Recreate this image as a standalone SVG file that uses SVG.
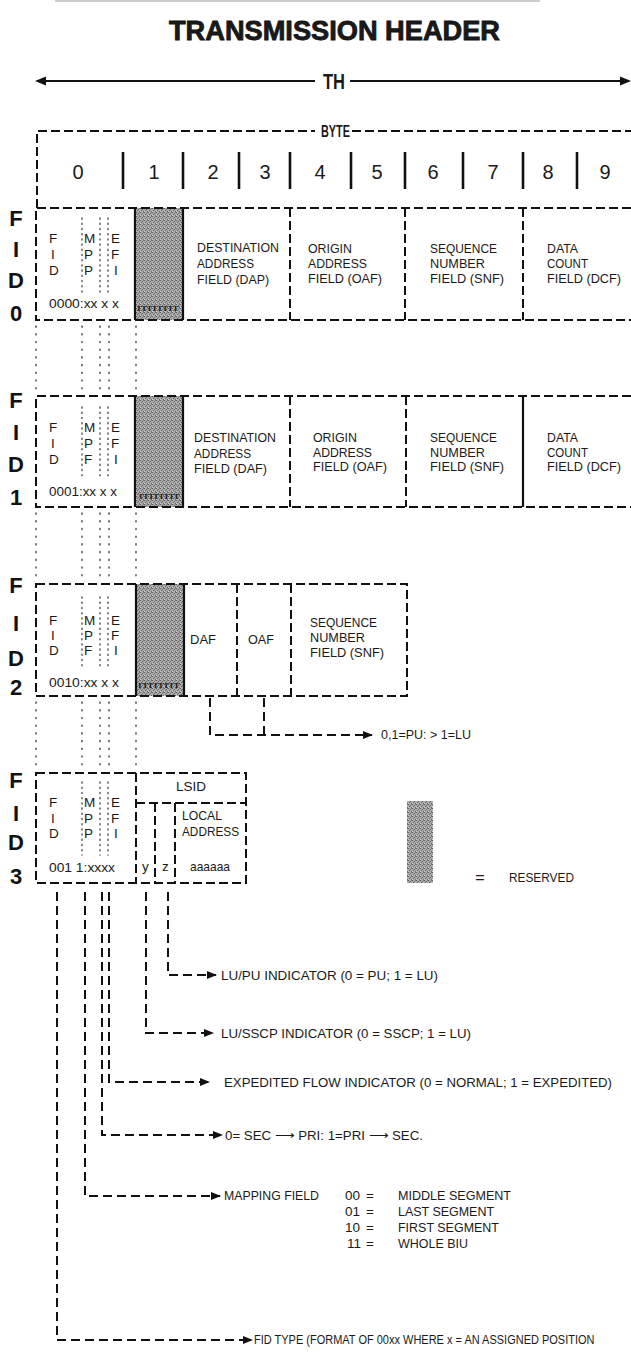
<svg xmlns="http://www.w3.org/2000/svg" width="631" height="1353" viewBox="0 0 631 1353">
<defs>
<pattern id="halftone" width="4" height="4" patternUnits="userSpaceOnUse">
<rect width="4" height="4" fill="#acacac"/>
<rect x="0" y="0" width="1" height="1" fill="#5a5a5a"/>
<rect x="2" y="1" width="1" height="1" fill="#666"/>
<rect x="1" y="2" width="1" height="1" fill="#606060"/>
<rect x="3" y="3" width="1" height="1" fill="#6a6a6a"/>
<rect x="3" y="0" width="1" height="1" fill="#7a7a7a"/>
<rect x="0" y="3" width="1" height="1" fill="#d0d0d0"/>
</pattern>
<marker id="ah" markerWidth="10" markerHeight="8" refX="9" refY="4" orient="auto" markerUnits="userSpaceOnUse">
<path d="M0,0 L10,4 L0,8 Z" fill="#111"/>
</marker>
</defs>
<style>
.t{font-family:"Liberation Sans","Noto Sans",sans-serif;fill:#1a1a1a}
.lb{font-size:13.5px}
.sm{font-size:13.5px}
.bt{font-size:13.5px}
.dg{font-size:20px;text-anchor:middle}
.fid{font-family:"Liberation Sans",sans-serif;font-weight:bold;font-size:22px;text-anchor:middle;fill:#111}
.dash{stroke:#111;stroke-width:2;stroke-dasharray:9 4;fill:none}
.solid{stroke:#111;stroke-width:2.2;fill:none}
.bar{stroke:#111;stroke-width:2.6}
.dot{stroke:#444;stroke-width:1.4;stroke-dasharray:1.2 6.5;stroke-linecap:round;fill:none}
.idot{stroke:#444;stroke-width:1.3;stroke-dasharray:1.2 4;stroke-linecap:round;fill:none}
.gray{fill:url(#halftone)}
.rr{font-family:"Liberation Serif",serif;font-size:11px;fill:#111}
.conn{stroke:#111;stroke-width:2;stroke-dasharray:9 5;fill:none}
</style>

<line x1="55" y1="1" x2="540" y2="1" stroke="#bdbdbd" stroke-width="1.5"/>

<g id="title">
<text class="t" x="334.5" y="40" text-anchor="middle" font-size="27" font-weight="bold" stroke="#111" stroke-width="0.8" textLength="331" lengthAdjust="spacingAndGlyphs">TRANSMISSION HEADER</text>
</g>

<g id="th-span">
<line x1="37" y1="81" x2="315" y2="81" stroke="#111" stroke-width="2"/>
<polygon points="35,81 46,76.5 46,85.5" fill="#111"/>
<line x1="350" y1="81" x2="622" y2="81" stroke="#111" stroke-width="2"/>
<polygon points="631,81 620,76.5 620,85.5" fill="#111"/>
<text class="t" x="323" y="89" font-size="22" font-weight="bold" textLength="22" lengthAdjust="spacingAndGlyphs">TH</text>
</g>

<g id="byte-header">
<path class="dash" d="M37,208 V131 H315"/>
<line class="dash" x1="352" y1="131" x2="631" y2="131"/>
<text class="t" x="321" y="137" font-size="16" font-weight="bold" textLength="29" lengthAdjust="spacingAndGlyphs">BYTE</text>
<line class="bar" x1="123" y1="152" x2="123" y2="189"/>
<line class="bar" x1="183" y1="152" x2="183" y2="189"/>
<line class="bar" x1="239" y1="152" x2="239" y2="189"/>
<line class="bar" x1="290" y1="152" x2="290" y2="189"/>
<line class="bar" x1="351" y1="152" x2="351" y2="189" stroke-width="3.2"/>
<line class="bar" x1="405" y1="152" x2="405" y2="189"/>
<line class="bar" x1="463" y1="152" x2="463" y2="189"/>
<line class="bar" x1="523" y1="152" x2="523" y2="189" stroke-width="3.2"/>
<line class="bar" x1="577" y1="152" x2="577" y2="189"/>
<text class="t dg" x="78" y="179">0</text>
<text class="t dg" x="154" y="179">1</text>
<text class="t dg" x="213" y="179">2</text>
<text class="t dg" x="265" y="179">3</text>
<text class="t dg" x="320" y="179">4</text>
<text class="t dg" x="377" y="179">5</text>
<text class="t dg" x="433" y="179">6</text>
<text class="t dg" x="493" y="179">7</text>
<text class="t dg" x="548" y="179">8</text>
<text class="t dg" x="605" y="179">9</text>
</g>

<g id="fid0">
<text class="fid" x="16" y="226">F</text>
<text class="fid" x="16" y="257">I</text>
<text class="fid" x="16" y="288">D</text>
<text class="fid" x="16" y="321">0</text>
<rect class="gray" x="135" y="208" width="48" height="112"/>
<path class="dash" d="M631,208 H36 V320 H631"/>
<line class="solid" x1="135" y1="208" x2="135" y2="320"/>
<line class="solid" x1="183" y1="208" x2="183" y2="320"/>
<line class="dash" x1="290" y1="208" x2="290" y2="320"/>
<line class="dash" x1="405" y1="208" x2="405" y2="320"/>
<line class="dash" x1="523" y1="208" x2="523" y2="320" stroke-width="2.4"/>
<line class="idot" x1="82" y1="218" x2="82" y2="292"/>
<line class="idot" x1="100" y1="218" x2="100" y2="292"/>
<line class="idot" x1="108" y1="218" x2="108" y2="292"/>
<text class="t sm" x="49" y="243">F</text><text class="t sm" x="51" y="259">I</text><text class="t sm" x="49" y="275">D</text>
<text class="t sm" x="84" y="243">M</text><text class="t sm" x="84" y="259">P</text><text class="t sm" x="84" y="275">P</text>
<text class="t sm" x="111" y="243">E</text><text class="t sm" x="111" y="259">F</text><text class="t sm" x="114" y="275">I</text>
<text class="t sm" x="49" y="308" textLength="70" lengthAdjust="spacingAndGlyphs">0000:xx x x</text>
<text class="rr" x="137" y="311" textLength="42" lengthAdjust="spacingAndGlyphs">rrrrrrrr</text>
<text class="t lb" x="197" y="252" textLength="82" lengthAdjust="spacingAndGlyphs">DESTINATION</text>
<text class="t lb" x="197" y="268" textLength="57" lengthAdjust="spacingAndGlyphs">ADDRESS</text>
<text class="t lb" x="197" y="284" textLength="72" lengthAdjust="spacingAndGlyphs">FIELD (DAP)</text>
<text class="t lb" x="308" y="253" textLength="44" lengthAdjust="spacingAndGlyphs">ORIGIN</text>
<text class="t lb" x="308" y="268" textLength="59" lengthAdjust="spacingAndGlyphs">ADDRESS</text>
<text class="t lb" x="308" y="283" textLength="74" lengthAdjust="spacingAndGlyphs">FIELD (OAF)</text>
<text class="t lb" x="430" y="253" textLength="67" lengthAdjust="spacingAndGlyphs">SEQUENCE</text>
<text class="t lb" x="430" y="268" textLength="55" lengthAdjust="spacingAndGlyphs">NUMBER</text>
<text class="t lb" x="430" y="283" textLength="74" lengthAdjust="spacingAndGlyphs">FIELD (SNF)</text>
<text class="t lb" x="547" y="253" textLength="31" lengthAdjust="spacingAndGlyphs">DATA</text>
<text class="t lb" x="547" y="268" textLength="41" lengthAdjust="spacingAndGlyphs">COUNT</text>
<text class="t lb" x="547" y="283" textLength="74" lengthAdjust="spacingAndGlyphs">FIELD (DCF)</text>
</g>

<g id="fid1">
<text class="fid" x="16" y="408">F</text>
<text class="fid" x="16" y="440">I</text>
<text class="fid" x="16" y="472">D</text>
<text class="fid" x="16" y="505">1</text>
<rect class="gray" x="135" y="396" width="48" height="111"/>
<path class="dash" d="M631,396 H36 V507 H631"/>
<line class="solid" x1="135" y1="396" x2="135" y2="507"/>
<line class="solid" x1="183" y1="396" x2="183" y2="507"/>
<line class="dash" x1="290" y1="396" x2="290" y2="507"/>
<line class="dash" x1="406" y1="396" x2="406" y2="507"/>
<line class="solid" x1="523" y1="396" x2="523" y2="507" stroke-width="2.4"/>
<line class="idot" x1="82" y1="407" x2="82" y2="478"/>
<line class="idot" x1="100" y1="407" x2="100" y2="478"/>
<line class="idot" x1="108" y1="407" x2="108" y2="478"/>
<text class="t sm" x="49" y="432">F</text><text class="t sm" x="51" y="448">I</text><text class="t sm" x="49" y="464">D</text>
<text class="t sm" x="84" y="432">M</text><text class="t sm" x="84" y="448">P</text><text class="t sm" x="84" y="464">F</text>
<text class="t sm" x="111" y="432">E</text><text class="t sm" x="111" y="448">F</text><text class="t sm" x="114" y="464">I</text>
<text class="t sm" x="49" y="496" textLength="68" lengthAdjust="spacingAndGlyphs">0001:xx x x</text>
<text class="rr" x="139" y="499" textLength="41" lengthAdjust="spacingAndGlyphs">rrrrrrrr</text>
<text class="t lb" x="194" y="442" textLength="82" lengthAdjust="spacingAndGlyphs">DESTINATION</text>
<text class="t lb" x="194" y="458" textLength="57" lengthAdjust="spacingAndGlyphs">ADDRESS</text>
<text class="t lb" x="194" y="473" textLength="73" lengthAdjust="spacingAndGlyphs">FIELD (DAF)</text>
<text class="t lb" x="313" y="442" textLength="44" lengthAdjust="spacingAndGlyphs">ORIGIN</text>
<text class="t lb" x="313" y="457" textLength="59" lengthAdjust="spacingAndGlyphs">ADDRESS</text>
<text class="t lb" x="313" y="471" textLength="74" lengthAdjust="spacingAndGlyphs">FIELD (OAF)</text>
<text class="t lb" x="430" y="442" textLength="67" lengthAdjust="spacingAndGlyphs">SEQUENCE</text>
<text class="t lb" x="430" y="457" textLength="55" lengthAdjust="spacingAndGlyphs">NUMBER</text>
<text class="t lb" x="430" y="471" textLength="74" lengthAdjust="spacingAndGlyphs">FIELD (SNF)</text>
<text class="t lb" x="547" y="442" textLength="31" lengthAdjust="spacingAndGlyphs">DATA</text>
<text class="t lb" x="547" y="457" textLength="41" lengthAdjust="spacingAndGlyphs">COUNT</text>
<text class="t lb" x="547" y="471" textLength="74" lengthAdjust="spacingAndGlyphs">FIELD (DCF)</text>
</g>

<g id="fid2">
<text class="fid" x="16" y="593">F</text>
<text class="fid" x="16" y="631">I</text>
<text class="fid" x="16" y="666">D</text>
<text class="fid" x="16" y="695">2</text>
<rect class="gray" x="136" y="584" width="48" height="112"/>
<rect class="dash" x="36" y="584" width="371" height="112"/>
<line class="solid" x1="136" y1="584" x2="136" y2="696" stroke-width="2.6"/>
<line class="solid" x1="184" y1="584" x2="184" y2="696"/>
<line class="dash" x1="237" y1="584" x2="237" y2="696"/>
<line class="dash" x1="291" y1="584" x2="291" y2="696"/>
<line class="idot" x1="82" y1="597" x2="82" y2="668"/>
<line class="idot" x1="100" y1="597" x2="100" y2="668"/>
<line class="idot" x1="108" y1="597" x2="108" y2="668"/>
<text class="t sm" x="49" y="625">F</text><text class="t sm" x="51" y="640">I</text><text class="t sm" x="49" y="655">D</text>
<text class="t sm" x="84" y="625">M</text><text class="t sm" x="84" y="640">P</text><text class="t sm" x="84" y="655">F</text>
<text class="t sm" x="111" y="625">E</text><text class="t sm" x="111" y="640">F</text><text class="t sm" x="114" y="655">I</text>
<text class="t sm" x="49" y="687" textLength="70" lengthAdjust="spacingAndGlyphs">0010:xx x x</text>
<text class="rr" x="138" y="688" textLength="42" lengthAdjust="spacingAndGlyphs">rrrrrrrr</text>
<text class="t lb" x="190" y="644" textLength="26" lengthAdjust="spacingAndGlyphs">DAF</text>
<text class="t lb" x="248" y="644" textLength="26" lengthAdjust="spacingAndGlyphs">OAF</text>
<text class="t lb" x="310" y="627" textLength="67" lengthAdjust="spacingAndGlyphs">SEQUENCE</text>
<text class="t lb" x="310" y="642" textLength="55" lengthAdjust="spacingAndGlyphs">NUMBER</text>
<text class="t lb" x="310" y="657" textLength="74" lengthAdjust="spacingAndGlyphs">FIELD (SNF)</text>
</g>

<g id="fid3">
<text class="fid" x="16" y="788">F</text>
<text class="fid" x="16" y="821">I</text>
<text class="fid" x="16" y="850">D</text>
<text class="fid" x="16" y="884">3</text>
<rect class="dash" x="36" y="773" width="210" height="110"/>
<line class="dash" x1="136" y1="773" x2="136" y2="883"/>
<line class="dash" x1="136" y1="803" x2="246" y2="803"/>
<line class="dash" x1="155" y1="803" x2="155" y2="883"/>
<line class="dash" x1="175" y1="803" x2="175" y2="883"/>
<line class="idot" x1="82" y1="782" x2="82" y2="855"/>
<line class="idot" x1="100" y1="782" x2="100" y2="855"/>
<line class="idot" x1="108" y1="782" x2="108" y2="855"/>
<text class="t sm" x="49" y="807">F</text><text class="t sm" x="51" y="823">I</text><text class="t sm" x="49" y="838">D</text>
<text class="t sm" x="84" y="807">M</text><text class="t sm" x="84" y="823">P</text><text class="t sm" x="84" y="838">P</text>
<text class="t sm" x="111" y="807">E</text><text class="t sm" x="111" y="823">F</text><text class="t sm" x="114" y="838">I</text>
<text class="t sm" x="49" y="872" textLength="66" lengthAdjust="spacingAndGlyphs">001 1:xxxx</text>
<text class="t lb" x="191" y="791" text-anchor="middle">LSID</text>
<text class="t lb" x="182" y="820" textLength="40" lengthAdjust="spacingAndGlyphs">LOCAL</text>
<text class="t lb" x="182" y="836" textLength="57" lengthAdjust="spacingAndGlyphs">ADDRESS</text>
<text class="t lb" x="142" y="871">y</text>
<text class="t lb" x="162" y="871">z</text>
<text class="t lb" x="190" y="871" textLength="40" lengthAdjust="spacingAndGlyphs">aaaaaa</text>
</g>

<g id="legend">
<rect class="gray" x="407" y="801" width="26" height="82"/>
<text class="t" x="480" y="883" font-size="16" text-anchor="middle">=</text>
<text class="t lb" x="509" y="882" textLength="65" lengthAdjust="spacingAndGlyphs">RESERVED</text>
</g>

<g id="connectors">
<g id="dotted-guides">
<line class="dot" x1="36" y1="326" x2="36" y2="392"/>
<line class="dot" x1="82" y1="326" x2="82" y2="392"/>
<line class="dot" x1="100" y1="326" x2="100" y2="392"/>
<line class="dot" x1="109" y1="326" x2="109" y2="392"/>
<line class="dot" x1="136" y1="326" x2="136" y2="392"/>
<line class="dot" x1="36" y1="513" x2="36" y2="580"/>
<line class="dot" x1="82" y1="513" x2="82" y2="580"/>
<line class="dot" x1="100" y1="513" x2="100" y2="580"/>
<line class="dot" x1="109" y1="513" x2="109" y2="580"/>
<line class="dot" x1="136" y1="513" x2="136" y2="580"/>
<line class="dot" x1="36" y1="702" x2="36" y2="769"/>
<line class="dot" x1="82" y1="702" x2="82" y2="769"/>
<line class="dot" x1="100" y1="702" x2="100" y2="769"/>
<line class="dot" x1="109" y1="702" x2="109" y2="769"/>
<line class="dot" x1="136" y1="702" x2="136" y2="769"/>
</g>
<g id="lsid-bracket">
<path class="conn" d="M210,698 V735 H372" marker-end="url(#ah)"/>
<line class="conn" x1="264" y1="698" x2="264" y2="735"/>
<text class="t" x="381" y="739" font-size="12.5">0,1=PU: &gt; 1=LU</text>
</g>
<g id="field-arrows">
<path class="conn" d="M168,892 V975 H216" marker-end="url(#ah)"/>
<text class="t bt" x="221" y="980" textLength="217" lengthAdjust="spacingAndGlyphs">LU/PU INDICATOR (0 = PU; 1 = LU)</text>
<path class="conn" d="M146,892 V1033 H213" marker-end="url(#ah)"/>
<text class="t bt" x="221" y="1038" textLength="250" lengthAdjust="spacingAndGlyphs">LU/SSCP INDICATOR (0 = SSCP; 1 = LU)</text>
<path class="conn" d="M109,892 V1082 H209" marker-end="url(#ah)"/>
<text class="t bt" x="224" y="1087" textLength="388" lengthAdjust="spacingAndGlyphs">EXPEDITED FLOW INDICATOR (0 = NORMAL; 1 = EXPEDITED)</text>
<path class="conn" d="M102,892 V1135 H222" marker-end="url(#ah)"/>
<text class="t bt" x="225" y="1140" textLength="198" lengthAdjust="spacingAndGlyphs">0= SEC ⟶ PRI: 1=PRI ⟶ SEC.</text>
<path class="conn" d="M85,892 V1196 H220" marker-end="url(#ah)"/>
<text class="t bt" x="224" y="1200" textLength="95" lengthAdjust="spacingAndGlyphs">MAPPING FIELD</text>
<text class="t bt" x="345" y="1200">00</text>
<text class="t bt" x="370" y="1200" text-anchor="middle">=</text>
<text class="t bt" x="398" y="1200" textLength="113" lengthAdjust="spacingAndGlyphs">MIDDLE SEGMENT</text>
<text class="t bt" x="345" y="1216">01</text>
<text class="t bt" x="370" y="1216" text-anchor="middle">=</text>
<text class="t bt" x="398" y="1216" textLength="96" lengthAdjust="spacingAndGlyphs">LAST SEGMENT</text>
<text class="t bt" x="345" y="1232">10</text>
<text class="t bt" x="370" y="1232" text-anchor="middle">=</text>
<text class="t bt" x="398" y="1232" textLength="101" lengthAdjust="spacingAndGlyphs">FIRST SEGMENT</text>
<text class="t bt" x="347" y="1248">11</text>
<text class="t bt" x="370" y="1248" text-anchor="middle">=</text>
<text class="t bt" x="398" y="1248" textLength="70" lengthAdjust="spacingAndGlyphs">WHOLE BIU</text>
<path class="conn" d="M57,892 V1340 H252" marker-end="url(#ah)"/>
<text class="t" transform="translate(254,1344) scale(1,1.15)" x="0" y="0" font-size="11">FID TYPE (FORMAT OF 00xx WHERE x = AN ASSIGNED POSITION</text>
</g>
</g>
</svg>
